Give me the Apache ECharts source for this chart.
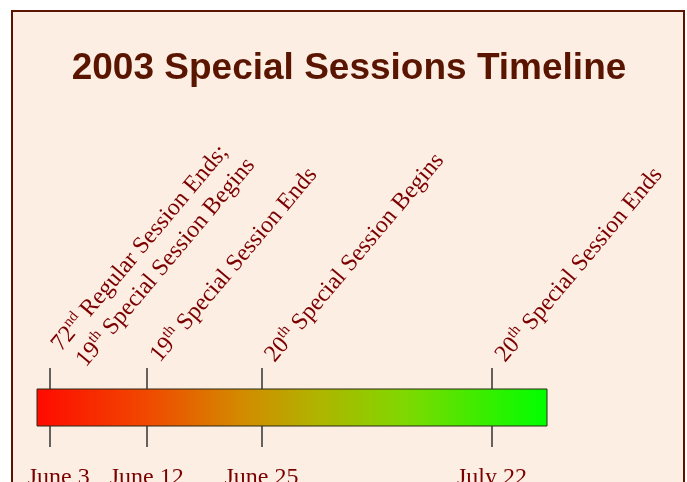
<!DOCTYPE html>
<html>
<head>
<meta charset="utf-8">
<title>2003 Special Sessions Timeline</title>
<script src="https://cdn.jsdelivr.net/npm/echarts@6/dist/echarts.min.js"></script>
<style>
  html, body { margin: 0; padding: 0; background: #ffffff; overflow: hidden; }
  #frame {
    position: absolute; left: 11px; top: 10px; width: 670px; height: 520px;
    background: #fdeee4; border: 2px solid #5a1500;
  }
  #chart { position: absolute; left: 0; top: 0; width: 687px; height: 482px; }
</style>
</head>
<body>
<div id="frame"></div>
<div id="chart"></div>
<script>
// timeline positions (0 = left end, 100 = right end)
const barRange = [0, 100];
const eventPos = [2.5, 21.5, 44, 89.2];
const eventDates = ["June 3", "June 12", "June 25", "July 22"];
// ^..^ marks a superscript
const eventNames = [
  "72^nd^ Regular Session Ends;\n19^th^ Special Session Begins",
  "19^th^ Special Session Ends",
  "20^th^ Special Session Begins",
  "20^th^ Special Session Ends"
];

const textColor = "#7b0000";

// labels start a little to the right of their tick
function toRich(name, first) {
  const lines = name.split("\n").map((line, li) => {
    const parts = line.split("^");
    const out = parts.map((p, i) => {
      if (!p) return "";
      return i % 2 ? "{sup|" + p + "}" : "{t|" + p + "}";
    }).join("");
    const gap = first ? (li ? "gap3" : "gap2") : "gap";
    return "{" + gap + "| }" + out;
  });
  // the two-line label sits a bit lower
  if (first) lines.unshift("{sp| }");
  return lines.join("\n");
}

const tickStyle = { color: "#333", width: 1.5 };
const serif = "Liberation Serif";

const chart = echarts.init(document.getElementById("chart"));

chart.setOption({
  animation: false,
  title: {
    text: "2003 Special Sessions Timeline",
    left: 344,
    textAlign: "center",
    top: 45,
    textStyle: {
      fontFamily: "Liberation Sans",
      fontWeight: "bold",
      fontSize: 37,
      color: "#5a1500"
    }
  },
  grid: {
    left: 37,
    right: 140,
    top: 389,
    height: 37,
    outerBoundsMode: "none"
  },
  xAxis: [
    {
      type: "value",
      position: "top",
      min: barRange[0],
      max: barRange[1],
      z: 10,
      axisLine: { show: false, onZero: false },
      splitLine: { show: false },
      axisTick: {
        show: true,
        inside: false,
        customValues: eventPos,
        length: 21,
        lineStyle: tickStyle
      },
      axisLabel: {
        customValues: eventPos,
        rotate: -50,
        margin: 20,
        interval: 0,
        formatter: function (v) {
          const i = eventPos.indexOf(v);
          return i < 0 ? "" : toRich(eventNames[i], i === 0);
        },
        rich: {
          t: { fontFamily: serif, fontSize: 24, color: textColor, lineHeight: 29 },
          sup: { fontFamily: serif, fontSize: 15, color: textColor, verticalAlign: "top", lineHeight: 17 },
          gap: { fontSize: 24, width: 13, lineHeight: 29 },
          gap2: { fontSize: 24, width: 20, lineHeight: 29 },
          gap3: { fontSize: 24, width: 24, lineHeight: 29 },
          sp: { fontSize: 10, lineHeight: 12 }
        }
      }
    },
    {
      type: "value",
      position: "bottom",
      min: barRange[0],
      max: barRange[1],
      z: 10,
      axisLine: { show: false, onZero: false },
      splitLine: { show: false },
      axisTick: {
        show: true,
        inside: false,
        customValues: eventPos,
        length: 21,
        lineStyle: tickStyle
      },
      axisLabel: {
        customValues: eventPos,
        margin: 40,
        interval: 0,
        verticalAlign: "top",
        fontFamily: serif,
        fontSize: 24,
        color: textColor,
        formatter: function (v) {
          const i = eventPos.indexOf(v);
          if (i < 0) return "";
          return i === 0 ? "{first|" + eventDates[i] + "}" : eventDates[i];
        },
        rich: {
          first: { fontFamily: serif, fontSize: 24, color: textColor, padding: [0, 0, 0, 18] }
        }
      }
    }
  ],
  yAxis: { type: "value", min: 0, max: 1, show: false },
  series: [
    {
      type: "custom",
      xAxisIndex: 0,
      data: [barRange],
      encode: { x: [0, 1] },
      renderItem: function (params, api) {
        const s = api.coord([api.value(0), 1]);
        const e = api.coord([api.value(1), 0]);
        return {
          type: "rect",
          shape: { x: s[0], y: s[1], width: e[0] - s[0], height: e[1] - s[1] },
          style: {
            fill: new echarts.graphic.LinearGradient(0, 0, 1, 0, [
              { offset: 0, color: "#ff0a00" },
              { offset: 0.22, color: "#f04a00" },
              { offset: 0.4, color: "#d38a00" },
              { offset: 0.55, color: "#b0b400" },
              { offset: 0.72, color: "#80d800" },
              { offset: 1, color: "#00ff00" }
            ]),
            stroke: "#2a2a14",
            lineWidth: 1
          }
        };
      }
    }
  ]
});
</script>
</body>
</html>
